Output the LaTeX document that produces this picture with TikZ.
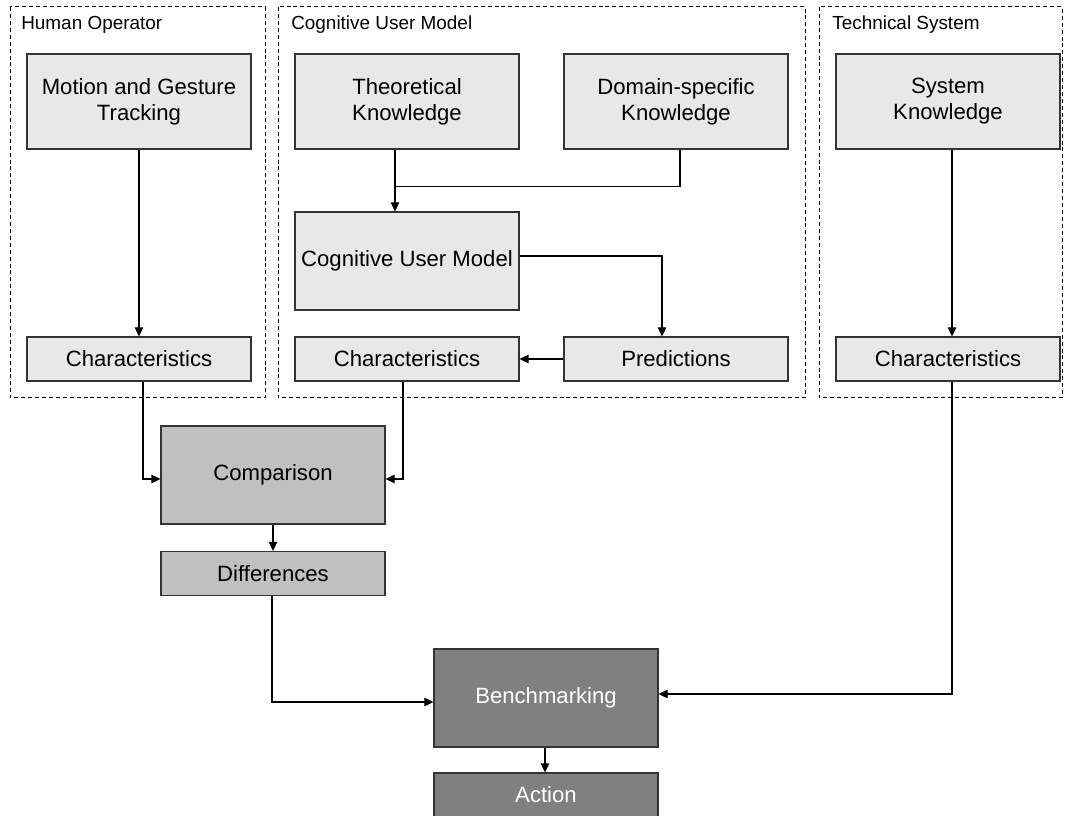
\documentclass[tikz,border=0pt]{standalone}
\usepackage{fontspec}
\setmainfont{Liberation Sans}
\usetikzlibrary{arrows.meta,calc}
\definecolor{boxlight}{HTML}{E8E8E8}
\definecolor{boxmid}{HTML}{C0C0C0}
\definecolor{boxdark}{HTML}{808080}
\definecolor{edge}{HTML}{333333}
\begin{document}
\begin{tikzpicture}[x=0.75pt,y=-0.75pt,
  box/.style={draw=edge, line width=0.9pt, fill=boxlight, minimum width=168pt,
    minimum height=71.25pt, align=center, inner sep=0pt,
    font=\fontsize{16.6}{19.6}\selectfont},
  shortbox/.style={box, minimum height=33pt},
  midbox/.style={fill=boxmid},
  darkbox/.style={fill=boxdark, text=white},
  frame/.style={draw=black, line width=0.75pt, dash pattern=on 3pt off 2.2pt},
  grouplabel/.style={anchor=west, inner sep=0pt, font=\fontsize{14.2}{17}\selectfont},
  arr/.style={draw=black, line width=0.9pt, -{Triangle[length=6.8pt,width=6.4pt]}},
  ln/.style={draw=black, line width=0.9pt}]
\useasboundingbox (0,0) rectangle (1065,816);

% group frames
\draw[frame] (10,7) rectangle (265,398);
\draw[frame] (278,7) rectangle (805,398);
\draw[frame] (819,7) rectangle (1062,398);
\node[grouplabel] (lho) at (21,25) {Human Operator};
\node[grouplabel] (lcum) at (291,25) {Cognitive User Model};
\node[grouplabel] (lts) at (832,25) {Technical System};

% nodes
\node[box] (mot) at (139,101.5) {Motion and Gesture\\Tracking};
\node[shortbox] (ch1) at (139,359) {Characteristics};
\node[box] (theo) at (407,101.5) {Theoretical\\Knowledge};
\node[box] (dom) at (676,101.5) {Domain-specific\\Knowledge};
\node[box, minimum height=73.5pt] (cum) at (407,261) {Cognitive User Model};
\node[shortbox] (ch2) at (407,359) {Characteristics};
\node[shortbox] (pred) at (676,359) {Predictions};
\node[box] (sys) at (948,101.5) {System\\Knowledge};
\node[shortbox] (ch3) at (948,359) {Characteristics};
\node[box, midbox, minimum height=73.5pt] (comp) at (273,475) {Comparison};
\node[shortbox, midbox] (diff) at (273,573.5) {Differences};
\node[box, darkbox, minimum height=73.5pt] (bench) at (546,698) {Benchmarking};
\node[shortbox, darkbox] (act) at (546,795) {Action};

% connectors
\draw[arr] (mot) -- (ch1);
\draw[arr] ($(theo.south)+(-12,0)$) -- ($(cum.north)+(-12,0)$);
\draw[ln] ($(dom.south)+(4,0)$) |- ($(theo.south)+(-12,37)$);
\draw[arr] ($(cum.east)+(0,-5)$) -| ($(pred.north)+(-14,0)$);
\draw[arr] (pred.west) -- (ch2.east);
\draw[arr] ($(sys.south)+(4,0)$) -- ($(ch3.north)+(4,0)$);
\draw[arr] ($(ch1.south)+(4,0)$) |- ($(comp.west)+(0,4)$);
\draw[arr] ($(ch2.south)+(-4,0)$) |- ($(comp.east)+(0,4)$);
\draw[arr] (comp) -- (diff);
\draw[arr] ($(diff.south)+(-1,0)$) |- ($(bench.west)+(0,4)$);
\draw[arr] ($(ch3.south)+(4,0)$) |- ($(bench.east)+(0,-4)$);
\draw[arr] ($(bench.south)+(-1,0)$) -- ($(act.north)+(-1,0)$);
\end{tikzpicture}
\end{document}
